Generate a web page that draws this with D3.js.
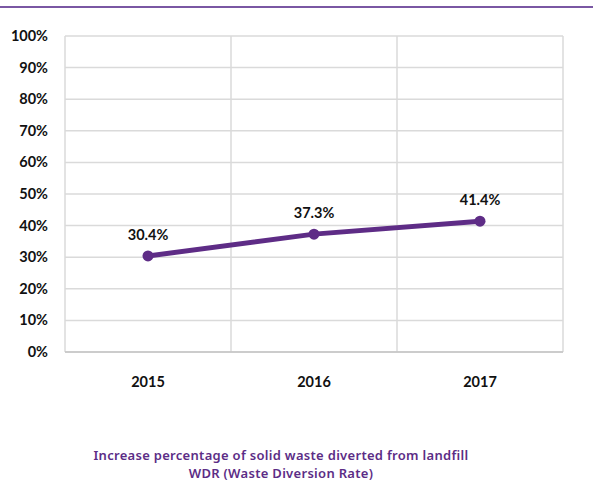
<!DOCTYPE html>
<html>
<head>
<meta charset="utf-8">
<script src="https://cdn.jsdelivr.net/npm/d3@7"></script>
<style>
  body { margin: 0; background: #fff; }
  svg { display: block; }
  .tick-label { font-family: Lato, "Open Sans", sans-serif; font-weight: 700; font-size: 14.5px; fill: #111; }
  .caption { font-family: "Noto Sans", "Open Sans", sans-serif; font-weight: 600; font-size: 13px; letter-spacing: 0.3px; fill: #5c2d86; }
</style>
</head>
<body>
<script>
'use strict';

// data
const years = ["2015", "2016", "2017"];
const wdr = [30.4, 37.3, 41.4];
const yTicks = [0, 10, 20, 30, 40, 50, 60, 70, 80, 90, 100];
const captionLines = [
    "Increase percentage of solid waste diverted from landfill",
    "WDR (Waste Diversion Rate)"
];

const W = 593, H = 501;
const plot = { left: 65, right: 563, top: 36, bottom: 352 };
const PURPLE = "#5e2c86";

const svg = d3.select("body").append("svg")
    .attr("width", W)
    .attr("height", H);

// top rule
svg.append("rect")
    .attr("x", 0).attr("y", 6)
    .attr("width", W).attr("height", 2)
    .attr("fill", "#7a57a3");

const x = d3.scaleBand()
    .domain(years)
    .range([plot.left, plot.right]);

const y = d3.scaleLinear()
    .domain([0, 100])
    .range([plot.bottom, plot.top]);

// grid
const grid = svg.append("g");
grid.selectAll("line.h")
    .data(yTicks)
    .join("line")
    .attr("x1", plot.left).attr("x2", plot.right)
    .attr("y1", (d) => y(d)).attr("y2", (d) => y(d))
    .attr("stroke", "#dadada")
    .attr("stroke-width", 1.5);

const vLines = [plot.left].concat(years.map((d) => x(d) + x.bandwidth()));
grid.selectAll("line.v")
    .data(vLines)
    .join("line")
    .attr("x1", (d) => d).attr("x2", (d) => d)
    .attr("y1", plot.top).attr("y2", plot.bottom)
    .attr("stroke", "#dadada")
    .attr("stroke-width", 1.5);

// axis line at bottom
svg.append("line")
    .attr("x1", plot.left).attr("x2", plot.right)
    .attr("y1", plot.bottom).attr("y2", plot.bottom)
    .attr("stroke", "#c4c4c4")
    .attr("stroke-width", 1.5);

// y labels
svg.append("g").selectAll("text")
    .data(yTicks)
    .join("text")
    .classed("tick-label", true)
    .attr("x", 48)
    .attr("y", (d) => y(d))
    .attr("dy", "0.35em")
    .attr("text-anchor", "end")
    .text((d) => d + "%");

// x labels
svg.append("g").selectAll("text")
    .data(years)
    .join("text")
    .classed("tick-label", true)
    .attr("x", (d) => x(d) + x.bandwidth() / 2)
    .attr("y", 382)
    .attr("dy", "0.35em")
    .attr("text-anchor", "middle")
    .text((d) => d);

// series
const pts = years.map((d, i) => ({ year: d, v: wdr[i] }));
const cx = (d) => x(d.year) + x.bandwidth() / 2;

svg.append("path")
    .datum(pts)
    .attr("fill", "none")
    .attr("stroke", PURPLE)
    .attr("stroke-width", 5)
    .attr("stroke-linecap", "round")
    .attr("d", d3.line().x(cx).y((d) => y(d.v)));

svg.append("g").selectAll("circle")
    .data(pts)
    .join("circle")
    .attr("cx", cx)
    .attr("cy", (d) => y(d.v))
    .attr("r", 5.5)
    .attr("fill", PURPLE);

svg.append("g").selectAll("text")
    .data(pts)
    .join("text")
    .classed("tick-label", true)
    .attr("x", cx)
    .attr("y", (d) => y(d.v) - 21)
    .attr("dy", "0.35em")
    .attr("text-anchor", "middle")
    .text((d) => d.v.toFixed(1) + "%");

// caption
svg.append("g").selectAll("text")
    .data(captionLines)
    .join("text")
    .classed("caption", true)
    .attr("x", 281)
    .attr("y", (d, i) => 455 + i * 18)
    .attr("dy", "0.35em")
    .attr("text-anchor", "middle")
    .text((d) => d);
</script>
</body>
</html>
